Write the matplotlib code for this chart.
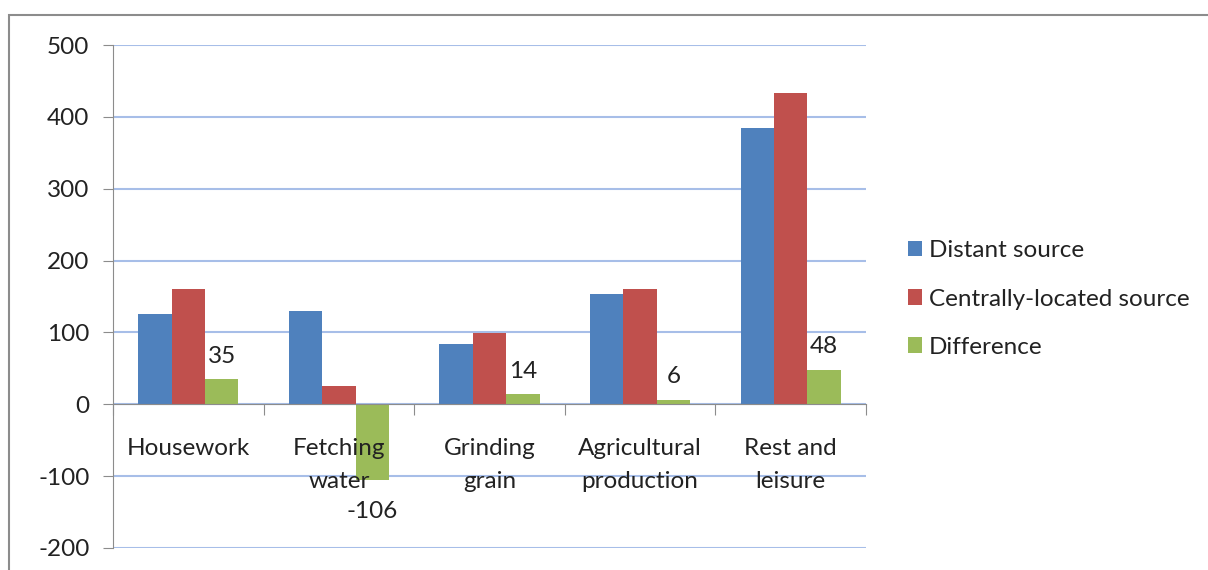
import numpy as np
import matplotlib
matplotlib.use("Agg")
from matplotlib import pyplot as plt
from matplotlib.patches import Rectangle
from matplotlib import transforms

plt.rcParams['font.family'] = ['Lato', 'DejaVu Sans']
plt.rcParams['axes.unicode_minus'] = False

categories = ['Housework', 'Fetching\nwater', 'Grinding\ngrain', 'Agricultural\nproduction', 'Rest and\nleisure']
distant = [125, 130, 84, 153, 385]
central = [160, 25, 99, 160, 433]
difference = [35, -106, 14, 6, 48]
series_names = ['Distant source', 'Centrally-located source', 'Difference']
colors = ['#4F81BD', '#C0504D', '#9BBB59']

fig = plt.figure(figsize=(12.08, 5.70), dpi=100)
ax = fig.add_axes([113/1208, 1 - 548/570, (866 - 113)/1208, (548 - 45)/570])

# outer chart border
fig.patches.append(Rectangle((9/1208, -0.1), 1.2, 1 - 15/570 + 0.1, transform=fig.transFigure,
                             fill=False, edgecolor='#8c8c8c', linewidth=1.5))

x = np.arange(len(categories))
w = 0.222
for i, (vals, name) in enumerate(zip([distant, central, difference], series_names)):
    ax.bar(x + (i - 1) * w, vals, width=w, color=colors[i], label=name, zorder=3)

fs = 17.5
tc = '#222222'
# data labels on the difference series
for xi, v in zip(x, difference):
    if v >= 0:
        ax.annotate(str(v), (xi + w, v), xytext=(0, 9), textcoords='offset points',
                    ha='center', va='bottom', fontsize=fs, color=tc)
    else:
        ax.annotate(str(v), (xi + w, v), xytext=(0, -15), textcoords='offset points',
                    ha='center', va='top', fontsize=fs, color=tc)

# category labels hang under the zero line, drawn over the bars
lab_tr = transforms.offset_copy(ax.transData, fig=fig, x=0, y=-24, units='points')
for xi, c in zip(x, categories):
    ax.text(xi, 0, c, transform=lab_tr, ha='center', va='top', fontsize=fs,
            color=tc, linespacing=1.7, zorder=6)

ax.set_xlim(-0.5, len(categories) - 0.5)
ax.set_ylim(-200, 500)
ax.set_yticks(np.arange(-200, 501, 100))
ax.yaxis.grid(True, color='#A7BEE8', linewidth=1.5, zorder=0)
ax.set_axisbelow(True)

for s in ['top', 'right']:
    ax.spines[s].set_visible(False)
ax.spines['left'].set_color('#8c8c8c')
ax.spines['bottom'].set_color('#8c8c8c')
ax.spines['bottom'].set_position(('data', 0))
ax.spines['bottom'].set_zorder(4)

ax.set_xticks(np.arange(-0.5, len(categories), 1.0))
ax.set_xticklabels([])
ax.tick_params(axis='x', which='major', direction='out', length=8, color='#8c8c8c')
ax.tick_params(axis='y', direction='out', length=7, color='#8c8c8c', pad=10,
               labelsize=fs, labelcolor=tc)

fig.legend(loc='center left', bbox_to_anchor=(886/1208, 1 - 299/570), frameon=False,
           fontsize=fs, handlelength=0.6, handleheight=0.6, handletextpad=0.25,
           labelspacing=1.12, labelcolor=tc)

fig.savefig('out.png', dpi=100)
